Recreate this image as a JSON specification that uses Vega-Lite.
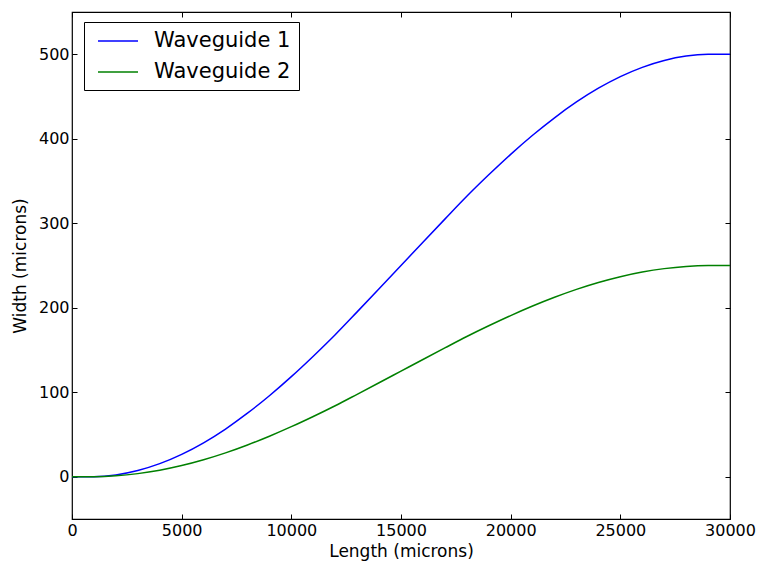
{
  "$schema": "https://vega.github.io/schema/vega-lite/v6.json",
  "autosize": {"type": "none"},
  "width": 658,
  "height": 507,
  "padding": {"left": 72, "top": 12, "right": 29, "bottom": 46},
  "background": "white",
  "config": {
    "font": "DejaVu Sans",
    "view": {"stroke": "black", "strokeWidth": 1.2},
    "axis": {"grid": false, "domain": false, "tickColor": "black", "tickSize": -5, "labelColor": "black", "titleColor": "black", "labelFont": "DejaVu Sans", "titleFont": "DejaVu Sans", "labelFontSize": 16, "titleFontSize": 17, "titleFontWeight": "normal"}
  },
  "data": {"values": [
    {"x": 0, "w": 0, "s": "Waveguide 1"},
    {"x": 1000, "w": 0.1, "s": "Waveguide 1"},
    {"x": 2000, "w": 2.2, "s": "Waveguide 1"},
    {"x": 3000, "w": 7.4, "s": "Waveguide 1"},
    {"x": 4000, "w": 15.5, "s": "Waveguide 1"},
    {"x": 5000, "w": 26.5, "s": "Waveguide 1"},
    {"x": 6000, "w": 40.2, "s": "Waveguide 1"},
    {"x": 7000, "w": 56.5, "s": "Waveguide 1"},
    {"x": 8000, "w": 75.2, "s": "Waveguide 1"},
    {"x": 9000, "w": 95.9, "s": "Waveguide 1"},
    {"x": 10000, "w": 118.5, "s": "Waveguide 1"},
    {"x": 11000, "w": 142.7, "s": "Waveguide 1"},
    {"x": 12000, "w": 168.1, "s": "Waveguide 1"},
    {"x": 13000, "w": 195.1, "s": "Waveguide 1"},
    {"x": 14000, "w": 222.4, "s": "Waveguide 1"},
    {"x": 15000, "w": 250, "s": "Waveguide 1"},
    {"x": 16000, "w": 277.6, "s": "Waveguide 1"},
    {"x": 17000, "w": 304.9, "s": "Waveguide 1"},
    {"x": 18000, "w": 331.9, "s": "Waveguide 1"},
    {"x": 19000, "w": 357.3, "s": "Waveguide 1"},
    {"x": 20000, "w": 381.5, "s": "Waveguide 1"},
    {"x": 21000, "w": 404.1, "s": "Waveguide 1"},
    {"x": 22000, "w": 424.8, "s": "Waveguide 1"},
    {"x": 23000, "w": 443.5, "s": "Waveguide 1"},
    {"x": 24000, "w": 459.8, "s": "Waveguide 1"},
    {"x": 25000, "w": 473.5, "s": "Waveguide 1"},
    {"x": 26000, "w": 484.5, "s": "Waveguide 1"},
    {"x": 27000, "w": 492.6, "s": "Waveguide 1"},
    {"x": 28000, "w": 497.8, "s": "Waveguide 1"},
    {"x": 29000, "w": 499.9, "s": "Waveguide 1"},
    {"x": 30000, "w": 500, "s": "Waveguide 1"},
    {"x": 0, "w": 0, "s": "Waveguide 2"},
    {"x": 1000, "w": 0.05, "s": "Waveguide 2"},
    {"x": 2000, "w": 1.1, "s": "Waveguide 2"},
    {"x": 3000, "w": 3.7, "s": "Waveguide 2"},
    {"x": 4000, "w": 7.75, "s": "Waveguide 2"},
    {"x": 5000, "w": 13.25, "s": "Waveguide 2"},
    {"x": 6000, "w": 20.1, "s": "Waveguide 2"},
    {"x": 7000, "w": 28.25, "s": "Waveguide 2"},
    {"x": 8000, "w": 37.6, "s": "Waveguide 2"},
    {"x": 9000, "w": 47.95, "s": "Waveguide 2"},
    {"x": 10000, "w": 59.25, "s": "Waveguide 2"},
    {"x": 11000, "w": 71.35, "s": "Waveguide 2"},
    {"x": 12000, "w": 84.05, "s": "Waveguide 2"},
    {"x": 13000, "w": 97.55, "s": "Waveguide 2"},
    {"x": 14000, "w": 111.2, "s": "Waveguide 2"},
    {"x": 15000, "w": 125, "s": "Waveguide 2"},
    {"x": 16000, "w": 138.8, "s": "Waveguide 2"},
    {"x": 17000, "w": 152.45, "s": "Waveguide 2"},
    {"x": 18000, "w": 165.95, "s": "Waveguide 2"},
    {"x": 19000, "w": 178.65, "s": "Waveguide 2"},
    {"x": 20000, "w": 190.75, "s": "Waveguide 2"},
    {"x": 21000, "w": 202.05, "s": "Waveguide 2"},
    {"x": 22000, "w": 212.4, "s": "Waveguide 2"},
    {"x": 23000, "w": 221.75, "s": "Waveguide 2"},
    {"x": 24000, "w": 229.9, "s": "Waveguide 2"},
    {"x": 25000, "w": 236.75, "s": "Waveguide 2"},
    {"x": 26000, "w": 242.25, "s": "Waveguide 2"},
    {"x": 27000, "w": 246.3, "s": "Waveguide 2"},
    {"x": 28000, "w": 248.9, "s": "Waveguide 2"},
    {"x": 29000, "w": 249.95, "s": "Waveguide 2"},
    {"x": 30000, "w": 250, "s": "Waveguide 2"}
  ]},
  "resolve": {"axis": {"x": "independent", "y": "independent"}},
  "layer": [
    {
      "mark": {"type": "line", "interpolate": "monotone", "strokeWidth": 1.5},
      "encoding": {
        "x": {"field": "x", "type": "quantitative", "scale": {"domain": [0, 30000], "nice": false}, "axis": {"title": "Length (microns)", "values": [0, 5000, 10000, 15000, 20000, 25000, 30000], "format": "d", "labelPadding": 8, "titlePadding": 5, "labelFlush": false}},
        "y": {"field": "w", "type": "quantitative", "scale": {"domain": [-50, 550], "nice": false, "zero": false}, "axis": {"title": "Width (microns)", "values": [0, 100, 200, 300, 400, 500], "labelPadding": 8, "titlePadding": 9}},
        "color": {"field": "s", "type": "nominal", "scale": {"domain": ["Waveguide 1", "Waveguide 2"], "range": ["#0000ff", "#008000"]},
          "legend": {"title": null, "orient": "none", "legendX": 12, "legendY": 10, "symbolType": "M-2,0L2,0", "symbolSize": 400, "symbolStrokeWidth": 1.5, "symbolOffset": 15, "labelFontSize": 21, "labelFont": "DejaVu Sans", "labelColor": "black", "strokeColor": "black", "fillColor": "white", "padding": 8, "rowPadding": 10, "labelOffset": 25, "cornerRadius": 0}}
      }
    },
    {
      "mark": {"type": "line", "opacity": 0},
      "encoding": {
        "x": {"field": "x", "type": "quantitative", "axis": {"orient": "top", "labels": false, "title": null, "values": [0, 5000, 10000, 15000, 20000, 25000, 30000]}},
        "y": {"field": "w", "type": "quantitative", "axis": {"orient": "right", "labels": false, "title": null, "values": [0, 100, 200, 300, 400, 500]}},
        "detail": {"field": "s"}
      }
    }
  ]
}
